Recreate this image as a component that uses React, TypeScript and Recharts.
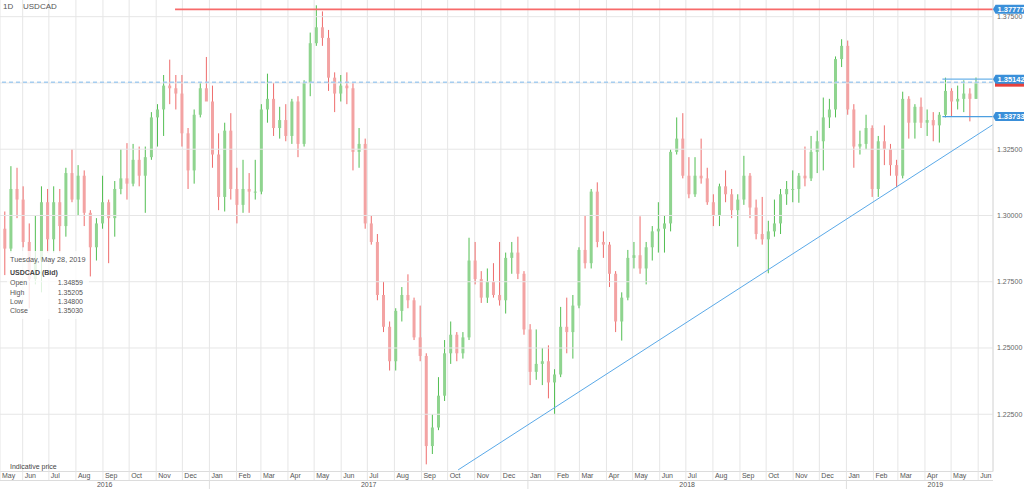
import { ComposedChart, Bar, XAxis, YAxis, CartesianGrid, ReferenceLine } from "recharts";

type OHLC = [number, number, number, number];

// weekly USDCAD candles [open, high, low, close]
const w2016: OHLC[] = [
  [1.295, 1.3015, 1.2775, 1.2875], [1.2875, 1.3186, 1.286, 1.31], [1.31, 1.318, 1.299, 1.306],
  [1.306, 1.311, 1.288, 1.29], [1.29, 1.297, 1.265, 1.276], [1.276, 1.3, 1.274, 1.283],
  [1.283, 1.311, 1.271, 1.305], [1.305, 1.31, 1.286, 1.291], [1.291, 1.311, 1.286, 1.305],
  [1.305, 1.31, 1.286, 1.296], [1.296, 1.318, 1.292, 1.316], [1.316, 1.325, 1.305, 1.306],
  [1.306, 1.319, 1.3, 1.315], [1.315, 1.317, 1.296, 1.301], [1.301, 1.302, 1.277, 1.288],
  [1.288, 1.299, 1.283, 1.297], [1.297, 1.315, 1.295, 1.305], [1.305, 1.306, 1.282, 1.299],
  [1.299, 1.313, 1.292, 1.31], [1.31, 1.325, 1.308, 1.314], [1.314, 1.3273, 1.306, 1.312],
  [1.312, 1.327, 1.311, 1.321], [1.321, 1.326, 1.311, 1.315], [1.315, 1.326, 1.301, 1.322],
  [1.322, 1.339, 1.321, 1.337], [1.337, 1.342, 1.326, 1.34], [1.34, 1.353, 1.33, 1.349],
  [1.349, 1.3588, 1.342, 1.348], [1.348, 1.353, 1.34, 1.346], [1.346, 1.353, 1.326, 1.331],
  [1.331, 1.333, 1.31, 1.317], [1.317, 1.34, 1.312, 1.338], [1.338, 1.35, 1.337, 1.348],
  [1.348, 1.3598, 1.346, 1.343],
];

const w2017: OHLC[] = [
  [1.343, 1.349, 1.318, 1.323], [1.323, 1.331, 1.302, 1.307], [1.307, 1.335, 1.3015, 1.332],
  [1.332, 1.3386, 1.306, 1.31], [1.31, 1.318, 1.297, 1.304], [1.304, 1.321, 1.301, 1.31],
  [1.31, 1.316, 1.301, 1.309], [1.309, 1.321, 1.306, 1.309], [1.309, 1.342, 1.308, 1.34],
  [1.34, 1.3535, 1.335, 1.344], [1.344, 1.35, 1.33, 1.333], [1.333, 1.341, 1.329, 1.336],
  [1.336, 1.342, 1.328, 1.33], [1.33, 1.344, 1.327, 1.343], [1.343, 1.345, 1.322, 1.327],
  [1.327, 1.351, 1.326, 1.35], [1.35, 1.369, 1.345, 1.365], [1.365, 1.3793, 1.364, 1.371],
  [1.371, 1.377, 1.364, 1.367], [1.367, 1.37, 1.347, 1.352], [1.352, 1.354, 1.339, 1.346],
  [1.346, 1.353, 1.343, 1.349], [1.349, 1.354, 1.342, 1.348], [1.348, 1.35, 1.317, 1.324],
  [1.324, 1.333, 1.318, 1.327], [1.327, 1.329, 1.295, 1.297], [1.297, 1.3, 1.289, 1.29],
  [1.29, 1.293, 1.268, 1.27], [1.27, 1.275, 1.256, 1.258], [1.258, 1.26, 1.2415, 1.245],
  [1.245, 1.265, 1.2415, 1.264], [1.264, 1.273, 1.26, 1.27], [1.27, 1.2778, 1.265, 1.268],
  [1.268, 1.269, 1.253, 1.254], [1.254, 1.266, 1.245, 1.247], [1.247, 1.248, 1.2061, 1.213],
  [1.213, 1.225, 1.21, 1.22], [1.22, 1.239, 1.219, 1.232], [1.232, 1.253, 1.23, 1.248],
  [1.248, 1.26, 1.244, 1.255], [1.255, 1.256, 1.245, 1.248], [1.248, 1.256, 1.246, 1.254],
  [1.254, 1.2916, 1.253, 1.283], [1.283, 1.29, 1.274, 1.276], [1.276, 1.279, 1.267, 1.269],
  [1.269, 1.28, 1.267, 1.275], [1.275, 1.282, 1.269, 1.27], [1.27, 1.29, 1.266, 1.268],
  [1.268, 1.286, 1.263, 1.284], [1.284, 1.29, 1.278, 1.286], [1.286, 1.292, 1.276, 1.278],
  [1.278, 1.279, 1.255, 1.257],
];

const w2018: OHLC[] = [
  [1.257, 1.259, 1.236, 1.241], [1.241, 1.257, 1.238, 1.244], [1.244, 1.25, 1.236, 1.245],
  [1.245, 1.251, 1.231, 1.237], [1.237, 1.242, 1.225, 1.24], [1.24, 1.2655, 1.239, 1.258],
  [1.258, 1.269, 1.248, 1.256], [1.256, 1.27, 1.246, 1.266], [1.266, 1.288, 1.265, 1.287],
  [1.287, 1.3, 1.28, 1.282], [1.282, 1.31, 1.28, 1.309], [1.309, 1.3125, 1.288, 1.29],
  [1.29, 1.294, 1.284, 1.289], [1.289, 1.29, 1.273, 1.278], [1.278, 1.279, 1.256, 1.26],
  [1.26, 1.271, 1.2528, 1.269], [1.269, 1.287, 1.268, 1.284], [1.284, 1.29, 1.28, 1.285],
  [1.285, 1.2997, 1.278, 1.28], [1.28, 1.29, 1.274, 1.288], [1.288, 1.296, 1.283, 1.294],
  [1.294, 1.305, 1.286, 1.295], [1.295, 1.3, 1.286, 1.297], [1.297, 1.325, 1.294, 1.324],
  [1.324, 1.337, 1.323, 1.329], [1.329, 1.3386, 1.314, 1.315], [1.315, 1.322, 1.3065, 1.308],
  [1.308, 1.322, 1.307, 1.315], [1.315, 1.329, 1.312, 1.314], [1.314, 1.318, 1.304, 1.305],
  [1.305, 1.308, 1.296, 1.3], [1.3, 1.312, 1.296, 1.311], [1.311, 1.317, 1.305, 1.308],
  [1.308, 1.31, 1.299, 1.302], [1.302, 1.308, 1.2882, 1.306], [1.306, 1.3225, 1.304, 1.315],
  [1.315, 1.316, 1.299, 1.303], [1.303, 1.306, 1.291, 1.293], [1.293, 1.307, 1.289, 1.291],
  [1.291, 1.298, 1.2782, 1.294], [1.294, 1.306, 1.292, 1.297], [1.297, 1.31, 1.293, 1.308],
  [1.308, 1.313, 1.304, 1.31], [1.31, 1.317, 1.305, 1.31], [1.31, 1.316, 1.3048, 1.315],
  [1.315, 1.326, 1.311, 1.314], [1.314, 1.33, 1.313, 1.324], [1.324, 1.332, 1.316, 1.328],
  [1.328, 1.3445, 1.317, 1.337], [1.337, 1.344, 1.333, 1.34], [1.34, 1.36, 1.337, 1.359],
  [1.359, 1.3665, 1.356, 1.364],
];

const w2019: OHLC[] = [
  [1.364, 1.366, 1.338, 1.34], [1.34, 1.342, 1.318, 1.326], [1.326, 1.332, 1.323, 1.327],
  [1.327, 1.338, 1.325, 1.333], [1.333, 1.334, 1.307, 1.31], [1.31, 1.33, 1.307, 1.328],
  [1.328, 1.334, 1.319, 1.325], [1.325, 1.327, 1.315, 1.319], [1.319, 1.321, 1.3107, 1.315],
  [1.315, 1.3467, 1.314, 1.344], [1.344, 1.345, 1.329, 1.335], [1.335, 1.342, 1.329, 1.341],
  [1.341, 1.3445, 1.333, 1.335], [1.335, 1.34, 1.33, 1.336], [1.336, 1.339, 1.328, 1.334],
  [1.334, 1.339, 1.3275, 1.338], [1.338, 1.352, 1.337, 1.347], [1.347, 1.348, 1.3375, 1.343],
  [1.343, 1.349, 1.34, 1.344], [1.344, 1.351, 1.339, 1.346], [1.346, 1.348, 1.3355, 1.344],
  [1.344, 1.35205, 1.344, 1.3503],
];

// first Monday of each block
const blocks: { y: number; m: number; d: number; rows: OHLC[] }[] = [
  { y: 2016, m: 4, d: 9, rows: w2016 },
  { y: 2017, m: 0, d: 2, rows: w2017 },
  { y: 2018, m: 0, d: 1, rows: w2018 },
  { y: 2018, m: 11, d: 31, rows: w2019 },
];

const ORIGIN = Date.UTC(2016, 4, 1);
const dayOf = (y: number, m: number, d: number) => (Date.UTC(y, m, d) - ORIGIN) / 86400000;

const data = blocks.flatMap(({ y, m, d, rows }) =>
  rows.map(([open, high, low, close], i) => ({
    t: dayOf(y, m, d + 7 * i + 2),
    open,
    high,
    low,
    close,
    range: [low, high],
  }))
);

const X_MIN = 5;
const X_MAX = 1143;

const monthNames = ["Jan", "Feb", "Mar", "Apr", "May", "Jun", "Jul", "Aug", "Sep", "Oct", "Nov", "Dec"];
const monthTicks: { t: number; label: string }[] = [{ t: X_MIN, label: "May" }];
for (let k = 5; k <= 41; k++) {
  monthTicks.push({ t: dayOf(2016 + Math.floor(k / 12), k % 12, 1), label: monthNames[k % 12] });
}
const monthLabel = new Map(monthTicks.map((m) => [m.t, m.label]));

const yearStarts = [dayOf(2017, 0, 1), dayOf(2018, 0, 1), dayOf(2019, 0, 1)];
const yearLabels = [
  { t: 125, label: "2016" },
  { t: 427.5, label: "2017" },
  { t: 792.5, label: "2018" },
  { t: 1077, label: "2019" },
];
const yearLabel = new Map(yearLabels.map((y) => [y.t, y.label]));

const priceTicks = [1.225, 1.25, 1.275, 1.3, 1.325, 1.35, 1.375];
const LAST = 1.3503;
const RESIST = 1.37777;
const BOX_TOP = 1.35142;
const BOX_BOTTOM = 1.33733;
const boxed = [RESIST, BOX_TOP, BOX_BOTTOM];

const RESIST_FROM = 205.6;
const BOX_FROM = 1085;
const trend = [
  { x: 530, y: 1.204 },
  { x: 1143, y: 1.3343 },
];

const FONT = "'Liberation Sans', Arial, sans-serif";
const UP_WICK = "#52be52";
const UP_BODY = "#8fd48f";
const DOWN_WICK = "#ee6c6c";
const DOWN_BODY = "#f3a3a3";
const BLUE = "#3a8fd9";

const Candle = (props: any) => {
  const { x, width, payload } = props;
  let { y, height } = props;
  if (height < 0) {
    y += height;
    height = -height;
  }
  const { open, high, low, close } = payload;
  const span = high - low || 1;
  const py = (p: number) => y + ((high - p) / span) * height;
  const up = close >= open;
  const cx = x + width / 2;
  const top = py(Math.max(open, close));
  const bot = py(Math.min(open, close));
  return (
    <g>
      <line x1={cx} x2={cx} y1={y} y2={y + height} stroke={up ? UP_WICK : DOWN_WICK} strokeWidth={1} />
      <rect x={x} y={top} width={width} height={Math.max(1, bot - top)} fill={up ? UP_BODY : DOWN_BODY} />
    </g>
  );
};

const MonthTick = ({ x, y, payload }: any) => (
  <text x={x + 2} y={y - 2.5} fontSize={7} fill="#555" fontFamily={FONT}>
    {monthLabel.get(payload.value)}
  </text>
);

const YearTick = ({ x, y, payload }: any) => {
  if (yearStarts.includes(payload.value)) {
    return <line x1={x} x2={x} y1={y} y2={y + 9} stroke="#dedede" />;
  }
  return (
    <text x={x} y={y + 6.8} textAnchor="middle" fontSize={7} fill="#555" fontFamily={FONT}>
      {yearLabel.get(payload.value)}
    </text>
  );
};

const PriceTick = ({ x, y, payload }: any) => {
  const v = payload.value;
  if (v === LAST) {
    return <rect x={x - 1} y={y - 4.5} width={40} height={9} fill="#e8413c" />;
  }
  if (boxed.includes(v)) {
    return (
      <g>
        <polygon points={`${x - 3},${y} ${x - 0.5},${y - 4.5} ${x + 40},${y - 4.5} ${x + 40},${y + 4.5} ${x - 0.5},${y + 4.5}`} fill={BLUE} />
        <text x={x + 1.5} y={y + 2.6} fontSize={7.5} fontWeight="bold" fill="#fff" fontFamily={FONT}>
          {v.toFixed(5)}
        </text>
      </g>
    );
  }
  if (v === 1.35) return null;
  return (
    <text x={x + 1} y={y + 2.5} fontSize={7} fill="#666" fontFamily={FONT}>
      {v.toFixed(5)}
    </text>
  );
};

const small = { position: "absolute" as const, fontFamily: FONT, color: "#555", whiteSpace: "nowrap" as const };

export default function App() {
  return (
    <div style={{ position: "absolute", left: 0, top: 0, width: 1024, height: 489, background: "#fff", overflow: "hidden" }}>
      <ComposedChart width={1024} height={489} data={data} margin={{ top: 0, right: 0, bottom: 0, left: 0 }}>
        <CartesianGrid xAxisId="m" horizontal={false} stroke="#e6e6e6" />
        <XAxis
          xAxisId="m"
          dataKey="t"
          type="number"
          domain={[X_MIN, X_MAX]}
          allowDataOverflow
          ticks={monthTicks.map((m) => m.t)}
          interval={0}
          height={9}
          tickSize={9}
          tickMargin={0}
          tickLine={{ stroke: "#e6e6e6" }}
          axisLine={{ stroke: "#dcdcdc" }}
          tick={MonthTick}
        />
        <XAxis
          xAxisId="y"
          dataKey="t"
          type="number"
          domain={[X_MIN, X_MAX]}
          allowDataOverflow
          ticks={[...yearStarts, ...yearLabels.map((y) => y.t)]}
          interval={0}
          height={8.5}
          tickSize={0}
          tickMargin={0}
          tickLine={false}
          axisLine={{ stroke: "#dcdcdc" }}
          tick={YearTick}
        />
        <YAxis
          orientation="right"
          width={31}
          type="number"
          domain={[1.2034, 1.3813]}
          allowDataOverflow
          ticks={[...priceTicks, LAST, ...boxed]}
          interval={0}
          tickSize={0}
          tickMargin={3}
          tickLine={false}
          axisLine={{ stroke: "#dcdcdc" }}
          tick={PriceTick}
        />
        {priceTicks.map((p) => (
          <ReferenceLine key={p} xAxisId="m" y={p} stroke="#e6e6e6" ifOverflow="visible" />
        ))}
        <Bar xAxisId="m" dataKey="range" barSize={3} shape={Candle} isAnimationActive={false} />
        <ReferenceLine
          xAxisId="m"
          segment={[{ x: RESIST_FROM, y: RESIST }, { x: X_MAX, y: RESIST }]}
          stroke="#f76a6a"
          strokeWidth={1.6}
          ifOverflow="visible"
        />
        <ReferenceLine xAxisId="m" y={LAST} stroke="#a6cdef" strokeWidth={1.5} strokeDasharray="4 3" ifOverflow="visible" />
        <ReferenceLine
          xAxisId="m"
          segment={[{ x: BOX_FROM, y: BOX_TOP }, { x: X_MAX, y: BOX_TOP }]}
          stroke="#6db3ea"
          strokeWidth={1.2}
          ifOverflow="visible"
        />
        <ReferenceLine
          xAxisId="m"
          segment={[{ x: BOX_FROM, y: BOX_BOTTOM }, { x: X_MAX, y: BOX_BOTTOM }]}
          stroke="#4d9fe0"
          strokeWidth={1.2}
          ifOverflow="visible"
        />
        <ReferenceLine xAxisId="m" segment={trend} stroke="#5aa9e8" strokeWidth={1} ifOverflow="visible" />
      </ComposedChart>

      <div style={{ ...small, left: 3, top: 2, fontSize: 8, lineHeight: "10px" }}>1D</div>
      <div style={{ ...small, left: 23, top: 2, fontSize: 8, lineHeight: "10px" }}>USDCAD</div>

      <div style={{ position: "absolute", left: 7, top: 251, width: 82, height: 68, background: "rgba(255,255,255,0.8)" }} />
      <div style={{ ...small, left: 10, top: 256, fontSize: 7.3, lineHeight: "8px" }}>Tuesday, May 28, 2019</div>
      <div style={{ ...small, left: 10, top: 269, fontSize: 7, lineHeight: "8px", fontWeight: "bold", color: "#444" }}>USDCAD (Bid)</div>
      {[
        ["Open", "1.34859", 283.3],
        ["High", "1.35205", 292.7],
        ["Low", "1.34800", 301.7],
        ["Close", "1.35030", 311],
      ].map(([k, v, c]) => (
        <div key={k as string}>
          <div style={{ ...small, left: 10, top: (c as number) - 4, fontSize: 7, lineHeight: "8px" }}>{k}</div>
          <div style={{ ...small, left: 50, width: 33, textAlign: "right", top: (c as number) - 4, fontSize: 7, lineHeight: "8px" }}>{v}</div>
        </div>
      ))}

      <div style={{ ...small, left: 10, top: 463, fontSize: 7, lineHeight: "8px", color: "#444" }}>Indicative price</div>
    </div>
  );
}
